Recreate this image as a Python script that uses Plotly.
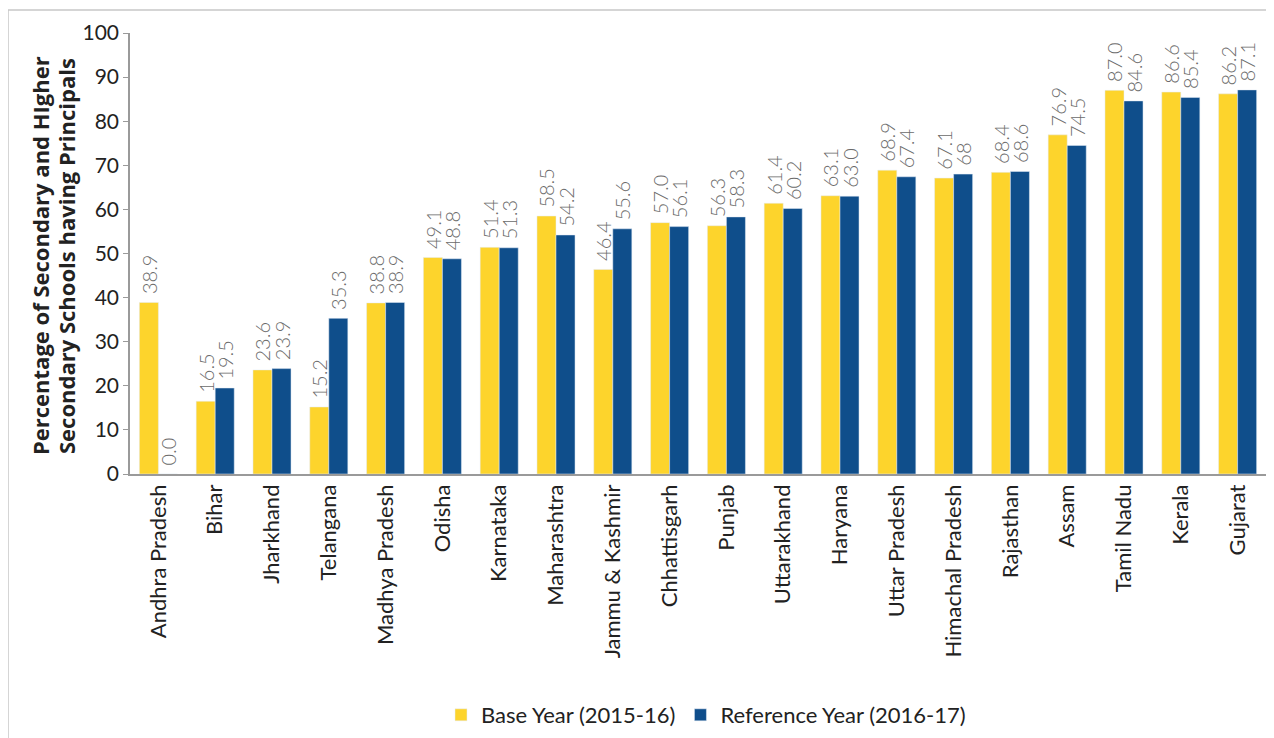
import plotly.graph_objects as go

states = ["Andhra Pradesh", "Bihar", "Jharkhand", "Telangana", "Madhya Pradesh", "Odisha",
          "Karnataka", "Maharashtra", "Jammu & Kashmir", "Chhattisgarh", "Punjab", "Uttarakhand",
          "Haryana", "Uttar Pradesh", "Himachal Pradesh", "Rajasthan", "Assam", "Tamil Nadu",
          "Kerala", "Gujarat"]
base_year = [38.9, 16.5, 23.6, 15.2, 38.8, 49.1, 51.4, 58.5, 46.4, 57.0, 56.3, 61.4,
             63.1, 68.9, 67.1, 68.4, 76.9, 87.0, 86.6, 86.2]
base_labels = ["38.9", "16.5", "23.6", "15.2", "38.8", "49.1", "51.4", "58.5", "46.4", "57.0",
               "56.3", "61.4", "63.1", "68.9", "67.1", "68.4", "76.9", "87.0", "86.6", "86.2"]
ref_year = [0.0, 19.5, 23.9, 35.3, 38.9, 48.8, 51.3, 54.2, 55.6, 56.1, 58.3, 60.2,
            63.0, 67.4, 68.0, 68.6, 74.5, 84.6, 85.4, 87.1]
ref_labels = ["0.0", "19.5", "23.9", "35.3", "38.9", "48.8", "51.3", "54.2", "55.6", "56.1",
              "58.3", "60.2", "63.0", "67.4", "68", "68.6", "74.5", "84.6", "85.4", "87.1"]
y_title_lines = ["Percentage of Secondary and HIgher", "Secondary Schools having Principals"]

FONT = "Lato"
label_font = dict(family=FONT, size=20, color="#6b6b6b", weight=300)

fig = go.Figure()
fig.add_trace(go.Bar(
    x=states, y=base_year, name="Base Year (2015-16)", marker_color="#FDD42C",
    text=base_labels, texttemplate="\u00a0%{text}", textposition="outside", textangle=-90,
    textfont=label_font, constraintext="none", cliponaxis=False))
fig.add_trace(go.Bar(
    x=states, y=ref_year, name="Reference Year (2016-17)", marker_color="#0F4E8B",
    text=ref_labels, texttemplate="\u00a0%{text}", textposition="outside", textangle=-90,
    textfont=label_font, constraintext="none", cliponaxis=False))

OFF = 8  # page body margin offset
W, H = 1274, 738
# target page positions of the plot area
PL, PR, PT, PB = 130, 1266, 33, 474
L, T = PL - OFF, PT - OFF
R = W - (PR - OFF)
B = H - (PB - OFF)
pw, ph = W - L - R, H - T - B

def px(x):
    return (x - OFF - L) / pw

def py(y):
    return (H - B - (y - OFF)) / ph

annotations = []
for xc, line in zip([40, 66], y_title_lines):
    annotations.append(dict(text="<b>" + line + "</b>", xref="paper", yref="paper",
                            x=px(xc), y=py(256), textangle=-90, showarrow=False,
                            xanchor="center", yanchor="middle",
                            font=dict(family="Open Sans", size=22, color="#222222")))

fig.update_layout(
    width=W, height=H,
    margin=dict(l=L, r=R, t=T, b=B, autoexpand=False),
    paper_bgcolor="white", plot_bgcolor="white",
    barmode="group", bargap=0.33, bargroupgap=0,
    font=dict(family=FONT, color="#222222"),
    showlegend=True,
    legend=dict(orientation="h", x=px(706), y=py(715), xanchor="center", yanchor="middle",
                font=dict(family=FONT, size=22, color="#222222"), traceorder="normal",
                itemwidth=30),
    xaxis=dict(tickangle=-90, tickfont=dict(family=FONT, size=22, color="#222222"),
               showline=True, linecolor="#9a9a9a", linewidth=1.5, ticks="", showgrid=False,
               automargin=False),
    yaxis=dict(range=[0, 100], dtick=10, tickfont=dict(family=FONT, size=21, color="#222222"),
               showline=True, linecolor="#9a9a9a", linewidth=1.5, ticks="outside",
               tickcolor="#9a9a9a", ticklen=5, showgrid=False, zeroline=False,
               automargin=False),
    shapes=[dict(type="rect", xref="paper", yref="paper",
                 x0=px(8), x1=px(1300), y0=py(780), y1=py(10),
                 line=dict(color="#c8c8c8", width=1.5), fillcolor="rgba(0,0,0,0)", layer="below")],
    annotations=annotations,
)

fig.write_html("out.html")
